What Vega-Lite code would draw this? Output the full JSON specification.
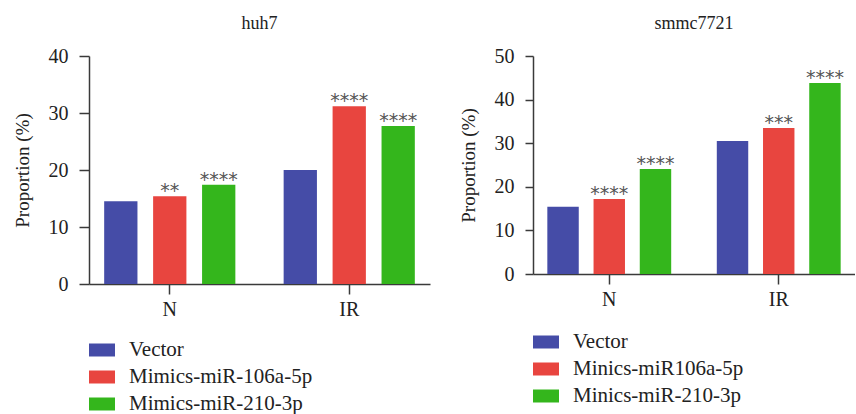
{
  "$schema": "https://vega.github.io/schema/vega-lite/v6.json",
  "padding": {"left": 13, "top": 15, "right": 0, "bottom": 0},
  "background": "white",
  "config": {
    "font": "Liberation Serif",
    "view": {"stroke": null},
    "concat": {"spacing": 29},
    "axis": {
      "domainColor": "#3a3a3a", "domainWidth": 1.5, "tickColor": "#3a3a3a", "tickWidth": 1.5, "tickSize": 10,
      "labelFont": "Liberation Serif", "labelFontSize": 20, "labelColor": "#222",
      "titleFont": "Liberation Serif", "titleFontSize": 19, "titleFontWeight": "normal", "titleColor": "#222",
      "grid": false
    },
    "title": {"font": "Liberation Serif", "fontSize": 18, "fontWeight": "normal", "color": "#222", "offset": 13},
    "legend": {
      "labelFont": "Liberation Serif", "labelFontSize": 21, "labelColor": "#222", "labelLimit": 400,
      "symbolType": "M-1,-0.5H1V0.5H-1Z", "symbolSize": 676, "symbolStrokeWidth": 0, "symbolOpacity": 1,
      "labelOffset": 14, "rowPadding": 4, "orient": "none", "direction": "vertical"
    }
  },
  "hconcat": [
    {
      "title": "huh7",
      "width": 341,
      "height": 228,
      "data": {"values": [
        {"group": "N", "series": "Vector", "value": 14.5, "sig": ""},
        {"group": "N", "series": "Mimics-miR-106a-5p", "value": 15.4, "sig": "**"},
        {"group": "N", "series": "Mimics-miR-210-3p", "value": 17.4, "sig": "****"},
        {"group": "IR", "series": "Vector", "value": 20.0, "sig": ""},
        {"group": "IR", "series": "Mimics-miR-106a-5p", "value": 31.2, "sig": "****"},
        {"group": "IR", "series": "Mimics-miR-210-3p", "value": 27.7, "sig": "****"}
      ]},
      "encoding": {
        "x": {"field": "group", "type": "nominal", "sort": ["N", "IR"], "scale": {"paddingInner": 0.1, "paddingOuter": 0}, "axis": {"title": null, "labelAngle": 0, "labelPadding": 5}},
        "xOffset": {"field": "series", "type": "nominal", "sort": ["Vector", "Mimics-miR-106a-5p", "Mimics-miR-210-3p"], "scale": {"paddingInner": 0.32, "paddingOuter": 0.31}},
        "y": {"field": "value", "type": "quantitative", "scale": {"domain": [0, 40], "nice": false}, "axis": {"values": [0, 10, 20, 30, 40], "title": "Proportion (%)", "labelPadding": 11, "titlePadding": 16}}
      },
      "layer": [
        {
          "mark": {"type": "bar"},
          "encoding": {
            "color": {"field": "series", "type": "nominal", "sort": ["Vector", "Mimics-miR-106a-5p", "Mimics-miR-210-3p"],
              "scale": {"domain": ["Vector", "Mimics-miR-106a-5p", "Mimics-miR-210-3p"], "range": ["#454CA7", "#E8453F", "#34B61C"]},
              "legend": {"title": null, "legendX": 0, "legendY": 281}}
          }
        },
        {
          "mark": {"type": "text", "baseline": "alphabetic", "dy": 1, "fontSize": 19, "color": "#555", "font": "DejaVu Sans"},
          "encoding": {"text": {"field": "sig"}}
        }
      ]
    },
    {
      "title": "smmc7721",
      "width": 322,
      "height": 218,
      "data": {"values": [
        {"group": "N", "series": "Vector", "value": 15.4, "sig": ""},
        {"group": "N", "series": "Minics-miR106a-5p", "value": 17.2, "sig": "****"},
        {"group": "N", "series": "Minics-miR-210-3p", "value": 24.1, "sig": "****"},
        {"group": "IR", "series": "Vector", "value": 30.5, "sig": ""},
        {"group": "IR", "series": "Minics-miR106a-5p", "value": 33.5, "sig": "***"},
        {"group": "IR", "series": "Minics-miR-210-3p", "value": 43.8, "sig": "****"}
      ]},
      "encoding": {
        "x": {"field": "group", "type": "nominal", "sort": ["N", "IR"], "scale": {"paddingInner": 0.1, "paddingOuter": 0}, "axis": {"title": null, "labelAngle": 0, "labelPadding": 5}},
        "xOffset": {"field": "series", "type": "nominal", "sort": ["Vector", "Minics-miR106a-5p", "Minics-miR-210-3p"], "scale": {"paddingInner": 0.32, "paddingOuter": 0.31}},
        "y": {"field": "value", "type": "quantitative", "scale": {"domain": [0, 50], "nice": false}, "axis": {"values": [0, 10, 20, 30, 40, 50], "title": "Proportion (%)", "tickSize": 8, "labelPadding": 11, "titlePadding": 16}}
      },
      "layer": [
        {
          "mark": {"type": "bar"},
          "encoding": {
            "color": {"field": "series", "type": "nominal", "sort": ["Vector", "Minics-miR106a-5p", "Minics-miR-210-3p"],
              "scale": {"domain": ["Vector", "Minics-miR106a-5p", "Minics-miR-210-3p"], "range": ["#454CA7", "#E8453F", "#34B61C"]},
              "legend": {"title": null, "legendX": 0, "legendY": 273}}
          }
        },
        {
          "mark": {"type": "text", "baseline": "alphabetic", "dy": 1, "fontSize": 19, "color": "#555", "font": "DejaVu Sans"},
          "encoding": {"text": {"field": "sig"}}
        }
      ]
    }
  ],
  "resolve": {"scale": {"color": "independent", "y": "independent", "x": "independent", "xOffset": "independent"}, "legend": {"color": "independent"}}
}
